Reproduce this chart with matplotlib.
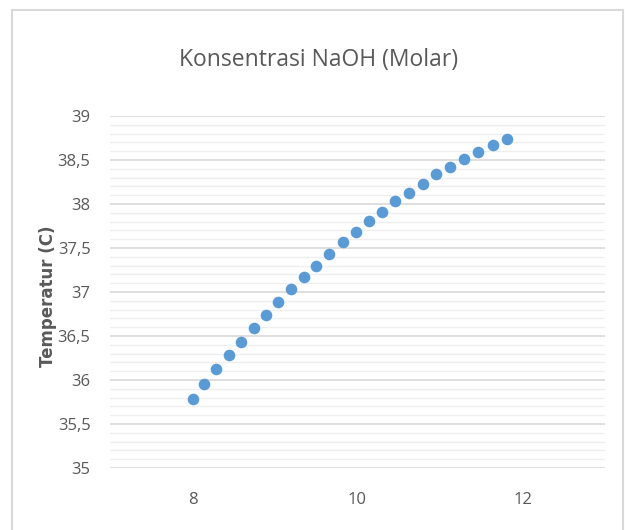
import matplotlib
matplotlib.use("Agg")
import matplotlib.pyplot as plt
from matplotlib.patches import Rectangle
from matplotlib.ticker import MultipleLocator, FuncFormatter

# data
konsentrasi = [8.0, 8.145, 8.29, 8.44, 8.59, 8.74, 8.89, 9.04, 9.195, 9.35,
               9.50, 9.66, 9.82, 9.98, 10.14, 10.30, 10.46, 10.62, 10.79, 10.955,
               11.12, 11.29, 11.46, 11.64, 11.81]
temperatur = [35.78, 35.95, 36.125, 36.28, 36.435, 36.59, 36.74, 36.89, 37.03, 37.17,
              37.30, 37.435, 37.57, 37.685, 37.81, 37.91, 38.03, 38.13, 38.23, 38.34,
              38.42, 38.51, 38.59, 38.67, 38.74]
x_ticks = [8, 10, 12]
judul = "Konsentrasi NaOH (Molar)"
label_y = "Temperatur (C)"

fonts = ["Open Sans", "DejaVu Sans"]
text_col = "#595959"

fig = plt.figure(figsize=(6.25, 5.3), dpi=100)
fig.patches.append(Rectangle((12 / 625, -0.05), 611 / 625, 1 - 10 / 530 + 0.05,
                             transform=fig.transFigure, fill=False,
                             edgecolor="#d9d9d9", linewidth=1.5))

ax = fig.add_axes([110 / 625, 1 - 468 / 530, 495 / 625, 352 / 530])
ax.scatter(konsentrasi, temperatur, s=70, color="#5b9bd5", zorder=3, linewidths=0)

ax.set_xlim(7, 13)
ax.set_ylim(35, 39)
ax.set_xticks(x_ticks)
ax.yaxis.set_major_locator(MultipleLocator(0.5))
ax.yaxis.set_minor_locator(MultipleLocator(0.1))
ax.yaxis.set_major_formatter(FuncFormatter(lambda v, p: f"{v:g}".replace(".", ",")))
ax.grid(axis="y", which="major", color="#d9d9d9", linewidth=1.2)
ax.grid(axis="y", which="minor", color="#efefef", linewidth=1.0)
ax.set_axisbelow(True)
for s in ax.spines.values():
    s.set_visible(False)
ax.tick_params(which="both", length=0)
ax.tick_params(axis="y", pad=14)
ax.tick_params(axis="x", pad=17)
for lab in ax.get_xticklabels() + ax.get_yticklabels():
    lab.set_family(fonts)
    lab.set_fontsize(12)
    lab.set_color(text_col)

fig.text(319 / 625, 1 - 60 / 530, judul, ha="center", va="center",
         fontsize=16.5, color=text_col, family=fonts)
fig.text(48 / 625, 1 - 296 / 530, label_y, ha="center", va="center", rotation=90,
         fontsize=12, color=text_col, fontweight="bold", family=["DejaVu Sans"])

fig.savefig("out.png", dpi=100)
